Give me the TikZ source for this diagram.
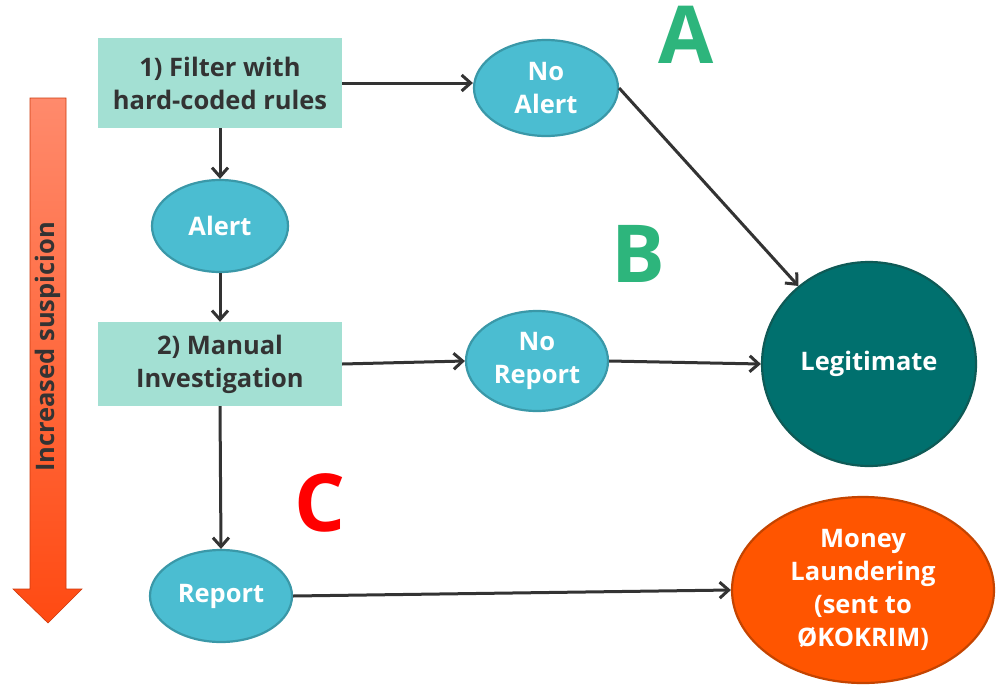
\documentclass[tikz,border=0pt]{standalone}
\usepackage{fontspec}
\setmainfont{Open Sans}
\usetikzlibrary{arrows.meta,shapes.geometric}
\definecolor{boxfill}{HTML}{A3E0D3}
\definecolor{txtdark}{HTML}{333333}
\definecolor{ellfill}{HTML}{4BBDD1}
\definecolor{elldraw}{HTML}{3A98A8}
\definecolor{legfill}{HTML}{00706E}
\definecolor{legdraw}{HTML}{0E5A56}
\definecolor{mlfill}{HTML}{FF5500}
\definecolor{mldraw}{HTML}{C44400}
\definecolor{lettergreen}{HTML}{2DB57C}
\definecolor{arrtop}{HTML}{FF8A6C}
\definecolor{arrbot}{HTML}{FF4A12}
\tikzset{
  nodefont/.style={font=\fontsize{25.5}{33}\selectfont\bfseries},
  stepbox/.style={rectangle, fill=boxfill, draw=none, text=txtdark, align=center,
    nodefont, minimum width=244pt, inner sep=0pt},
  ellnode/.style={ellipse, fill=ellfill, draw=elldraw, line width=2.2pt, text=white,
    align=center, nodefont, inner sep=0pt},
  conn/.style={draw=txtdark, line width=3pt,
    -{Straight Barb[length=9pt,width=16pt,line width=3pt]}},
  bigletter/.style={font=\fontsize{80}{80}\selectfont\bfseries, inner sep=0pt}
}
\begin{document}
\begin{tikzpicture}[x=1pt,y=-1pt]
\useasboundingbox (0,0) rectangle (998,688);
\fill[white] (0,0) rectangle (998,688);
% big arrow
\shade[top color=arrtop, bottom color=arrbot, draw=arrbot!80!black, line width=0.6pt]
  (30,98) -- (66,98) -- (66,589) -- (82,589) -- (48,623) -- (13,589) -- (30,589) -- cycle;
\node[rotate=90, text=txtdark, font=\fontsize{25.5}{28}\selectfont\bfseries, inner sep=0pt] (sus) at (48,347) {Increased suspicion};
% nodes
\node[stepbox, minimum height=90pt] (f) at (220,83) {1) Filter with\\hard-coded rules};
\node[ellnode, minimum width=144pt, minimum height=96pt] (na) at (546,88) {No\\Alert};
\node[ellnode, minimum width=136pt, minimum height=92pt] (al) at (220,226) {Alert};
\node[stepbox, minimum height=84pt] (mi) at (220,364) {2) Manual\\Investigation};
\node[ellnode, minimum width=142pt, minimum height=100pt] (nr) at (537,361) {No\\Report};
\node[ellnode, minimum width=142pt, minimum height=92pt] (rp) at (221,596) {Report};
\node[ellipse, fill=legfill, draw=legdraw, line width=2.2pt, text=white, inner sep=0pt,
  nodefont, minimum width=214pt, minimum height=204pt] (lg) at (869,364) {Legitimate};
\node[ellipse, fill=mlfill, draw=mldraw, line width=2.2pt, text=white, inner sep=0pt, align=center,
  nodefont, minimum width=262pt, minimum height=186pt] (ml) at (863,590) {Money\\Laundering\\(sent to\\ØKOKRIM)};
% letters
\node[bigletter, text=lettergreen] (la) at (686,35) {A};
\node[bigletter, text=lettergreen] (lb) at (638,254) {B};
\node[bigletter, text=red] (lc) at (320,503) {C};
% connectors
\draw[conn] (f.east) -- (na.west |- f.east);
\draw[conn] (f.south) -- (al.north);
\draw[conn] (al.south) -- (mi.north);
\draw[conn] (mi.east) -- (nr.west);
\draw[conn] (mi.south) -- (rp.north);
\draw[conn] (na.east) -- (lg);
\draw[conn] (nr.east) -- (lg.west);
\draw[conn] (rp.east) -- (ml.west);
\end{tikzpicture}
\end{document}
